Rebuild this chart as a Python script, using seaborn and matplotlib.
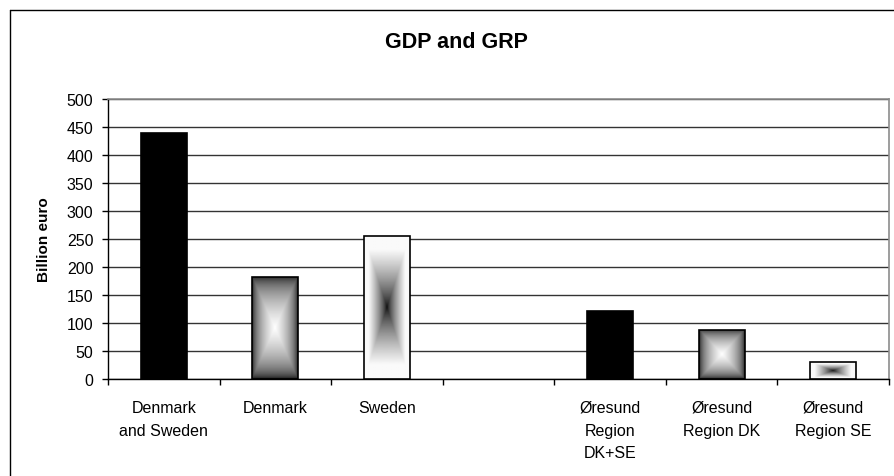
import numpy as np
import pandas as pd
import matplotlib
matplotlib.use('Agg')
import matplotlib.pyplot as plt
from matplotlib.lines import Line2D
import seaborn as sns

# data (billion euro), 4th slot is an empty spacer
categories = ["Denmark\nand Sweden", "Denmark", "Sweden", " ",
              "Øresund\nRegion\nDK+SE", "Øresund\nRegion DK", "Øresund\nRegion SE"]
values = [440, 183, 256, np.nan, 122, 88, 30]

# fill style of each bar: solid black, dark edges -> white centre, white edges -> dark centre
fills = ["solid", "edge_dark", "centre_dark", None, "solid", "edge_dark", "centre_dark"]

sns.set_style('white')
plt.rcParams['font.family'] = ['Liberation Sans', 'DejaVu Sans']
plt.rcParams.update({'text.color': 'black', 'axes.labelcolor': 'black',
                     'xtick.color': 'black', 'ytick.color': 'black'})

df = pd.DataFrame({'category': categories, 'value': values})

fig = plt.figure(figsize=(8.95, 4.77), dpi=100)
ax = fig.add_axes([108 / 895, 1 - 380 / 477, (889 - 108) / 895, (380 - 100) / 477])

sns.barplot(data=df, x='category', y='value', order=categories, color='white',
            edgecolor='black', linewidth=1.2, width=0.41, saturation=1, ax=ax,
            errorbar=None, zorder=3)


def gradient(kind, n=240):
    u = np.linspace(-1, 1, n)
    uu, vv = np.meshgrid(u, u)
    d = np.maximum(np.abs(uu), np.abs(vv))      # rectangular "from centre" gradient
    if kind == 'edge_dark':
        return np.clip(1 - d, 0, 1) ** 0.45
    return 0.03 + 0.95 * np.clip(d / 0.8, 0, 1) ** 0.7


for p in ax.patches:
    h = p.get_height()
    if h is None or np.isnan(h) or h == 0:
        continue
    idx = int(round(p.get_x() + p.get_width() / 2))
    kind = fills[idx]
    if kind == 'solid':
        p.set_facecolor('black')
        continue
    x0, w, y0 = p.get_x(), p.get_width(), p.get_y()
    img = ax.imshow(gradient(kind), cmap='gray', vmin=0, vmax=1, origin='lower',
                    extent=(x0, x0 + w, y0, y0 + h), aspect='auto',
                    interpolation='bilinear', zorder=3.5)
    img.set_clip_path(p)
    p.set_facecolor('none')
    p.set_zorder(4)

ax.set_xlim(-0.5, len(categories) - 0.5)
ax.set_ylim(0, 500)
ax.set_yticks(np.arange(0, 501, 50))

# grid and frame
ax.set_axisbelow(True)
ax.grid(axis='y', color='#333333', linewidth=1)
ax.grid(axis='x', visible=False)
for s in ['top', 'right']:
    ax.spines[s].set_color('#8c8c8c')
    ax.spines[s].set_linewidth(1.2)
for s in ['left', 'bottom']:
    ax.spines[s].set_color('black')
    ax.spines[s].set_linewidth(1)

# ticks: labels at bar centres, tick marks at category boundaries
ax.set_xticks(range(len(categories)))
ax.set_xticklabels(categories, fontsize=11.5, linespacing=1.65, va='top')
ax.set_xticks(np.arange(-0.5, len(categories), 1), minor=True)
ax.tick_params(axis='x', which='major', length=0, pad=15, bottom=True)
ax.tick_params(axis='x', which='minor', length=4.5, width=1, color='black',
               direction='out', bottom=True)
ax.tick_params(axis='y', length=4.5, width=1, color='black', direction='out',
               left=True, labelsize=11.5, pad=6)

ax.set_xlabel('')
ax.set_ylabel('Billion euro', fontsize=11, fontweight='bold', labelpad=11)

fig.text(456 / 895, 1 - 42 / 477, 'GDP and GRP', ha='center', va='center',
         fontsize=15.5, fontweight='bold')

# outer chart border (runs off the right and bottom of the crop)
fig.add_artist(Line2D([10 / 895, 10 / 895], [0, 1 - 11 / 477], transform=fig.transFigure,
                      color='black', linewidth=1))
fig.add_artist(Line2D([10 / 895, 1], [1 - 11 / 477, 1 - 11 / 477], transform=fig.transFigure,
                      color='black', linewidth=1))

fig.savefig('out.png', dpi=100)
